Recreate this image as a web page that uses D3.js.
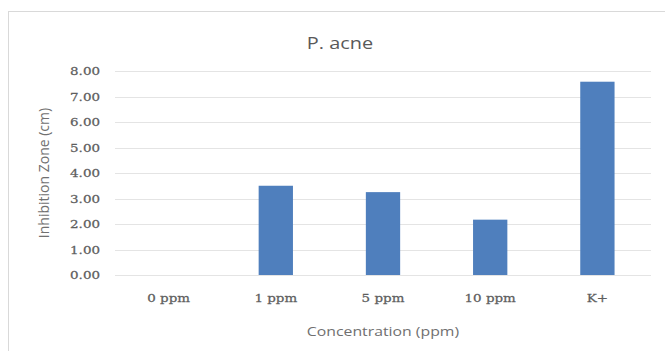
<!DOCTYPE html>
<html>
<head>
<meta charset="utf-8">
<script src="https://cdn.jsdelivr.net/npm/d3@7"></script>
<style>
  body { margin: 0; background: #fff; }
</style>
</head>
<body>
<div id="chart"></div>
<script>
// data
const categories = ["0 ppm", "1 ppm", "5 ppm", "10 ppm", "K+"];
const zoneValues = [0, 3.5, 3.25, 2.17, 7.58];
const yTicks = [0, 1, 2, 3, 4, 5, 6, 7, 8];

const width = 665, height = 351;
const margin = {top: 71, right: 14, bottom: 76, left: 115};
// the source picture is a bit stretched sideways, so text gets widened too
const stretch = 1.17;

const svg = d3.select("#chart").append("svg")
  .attr("width", width)
  .attr("height", height);

// chart frame
svg.append("rect")
  .attr("x", 8.5).attr("y", 11.5)
  .attr("width", width).attr("height", height)
  .attr("fill", "#fff")
  .attr("stroke", "#d9d9d9");

const x = d3.scaleBand()
  .domain(categories)
  .range([margin.left, width - margin.right])
  .paddingInner(0.68)
  .paddingOuter(0.34);

const y = d3.scaleLinear()
  .domain([0, 8])
  .range([height - margin.bottom, margin.top]);

// gridlines
svg.append("g")
  .selectAll("line")
  .data(yTicks)
  .join("line")
    .attr("x1", margin.left)
    .attr("x2", width - margin.right)
    .attr("y1", d => Math.round(y(d)) + 0.5)
    .attr("y2", d => Math.round(y(d)) + 0.5)
    .attr("stroke", "#e4e4e4");

// y axis labels
const yAxis = svg.append("g")
  .attr("transform", `translate(${margin.left - 15},0)`)
  .call(d3.axisLeft(y).tickValues(yTicks).tickFormat(d3.format(".2f")).tickSize(0).tickPadding(0));
yAxis.select(".domain").remove();
yAxis.selectAll("text")
  .attr("transform", `scale(${stretch},1)`)
  .attr("fill", "#5e5e5e")
  .attr("stroke", "#5e5e5e")
  .attr("stroke-width", 0.25)
  .style("font-family", "'DejaVu Serif', serif")
  .style("font-size", "11.5px");

// bars
svg.append("g")
  .selectAll("rect")
  .data(zoneValues)
  .join("rect")
    .attr("x", (d, i) => x(categories[i]))
    .attr("y", d => y(d))
    .attr("width", x.bandwidth())
    .attr("height", d => y(0) - y(d))
    .attr("fill", "#4f7fbd");

// x axis labels
const xAxis = svg.append("g")
  .attr("transform", `translate(0,${y(0) + 19})`)
  .call(d3.axisBottom(x).tickSize(0).tickPadding(0));
xAxis.select(".domain").remove();
xAxis.selectAll("text")
  .attr("transform", `scale(${stretch},1)`)
  .attr("fill", "#5e5e5e")
  .attr("stroke", "#5e5e5e")
  .attr("stroke-width", 0.25)
  .style("font-family", "'DejaVu Serif', serif")
  .style("font-size", "11.5px");

// title
svg.append("text")
  .attr("transform", `translate(340,49) scale(${stretch},1)`)
  .attr("text-anchor", "middle")
  .attr("fill", "#595959")
  .style("font-family", "'Open Sans', sans-serif")
  .style("font-size", "17px")
  .text("P. acne");

// axis titles
svg.append("text")
  .attr("transform", `translate(383,336) scale(${stretch},1)`)
  .attr("text-anchor", "middle")
  .attr("fill", "#707070")
  .style("font-family", "'Open Sans', sans-serif")
  .style("font-size", "13.5px")
  .text("Concentration (ppm)");

svg.append("text")
  .attr("transform", `translate(49,${(y(0) + y(8)) / 2}) rotate(-90)`)
  .attr("text-anchor", "middle")
  .attr("fill", "#707070")
  .style("font-family", "'Open Sans', sans-serif")
  .style("font-size", "14px")
  .text("Inhibition Zone (cm)");
</script>
</body>
</html>
